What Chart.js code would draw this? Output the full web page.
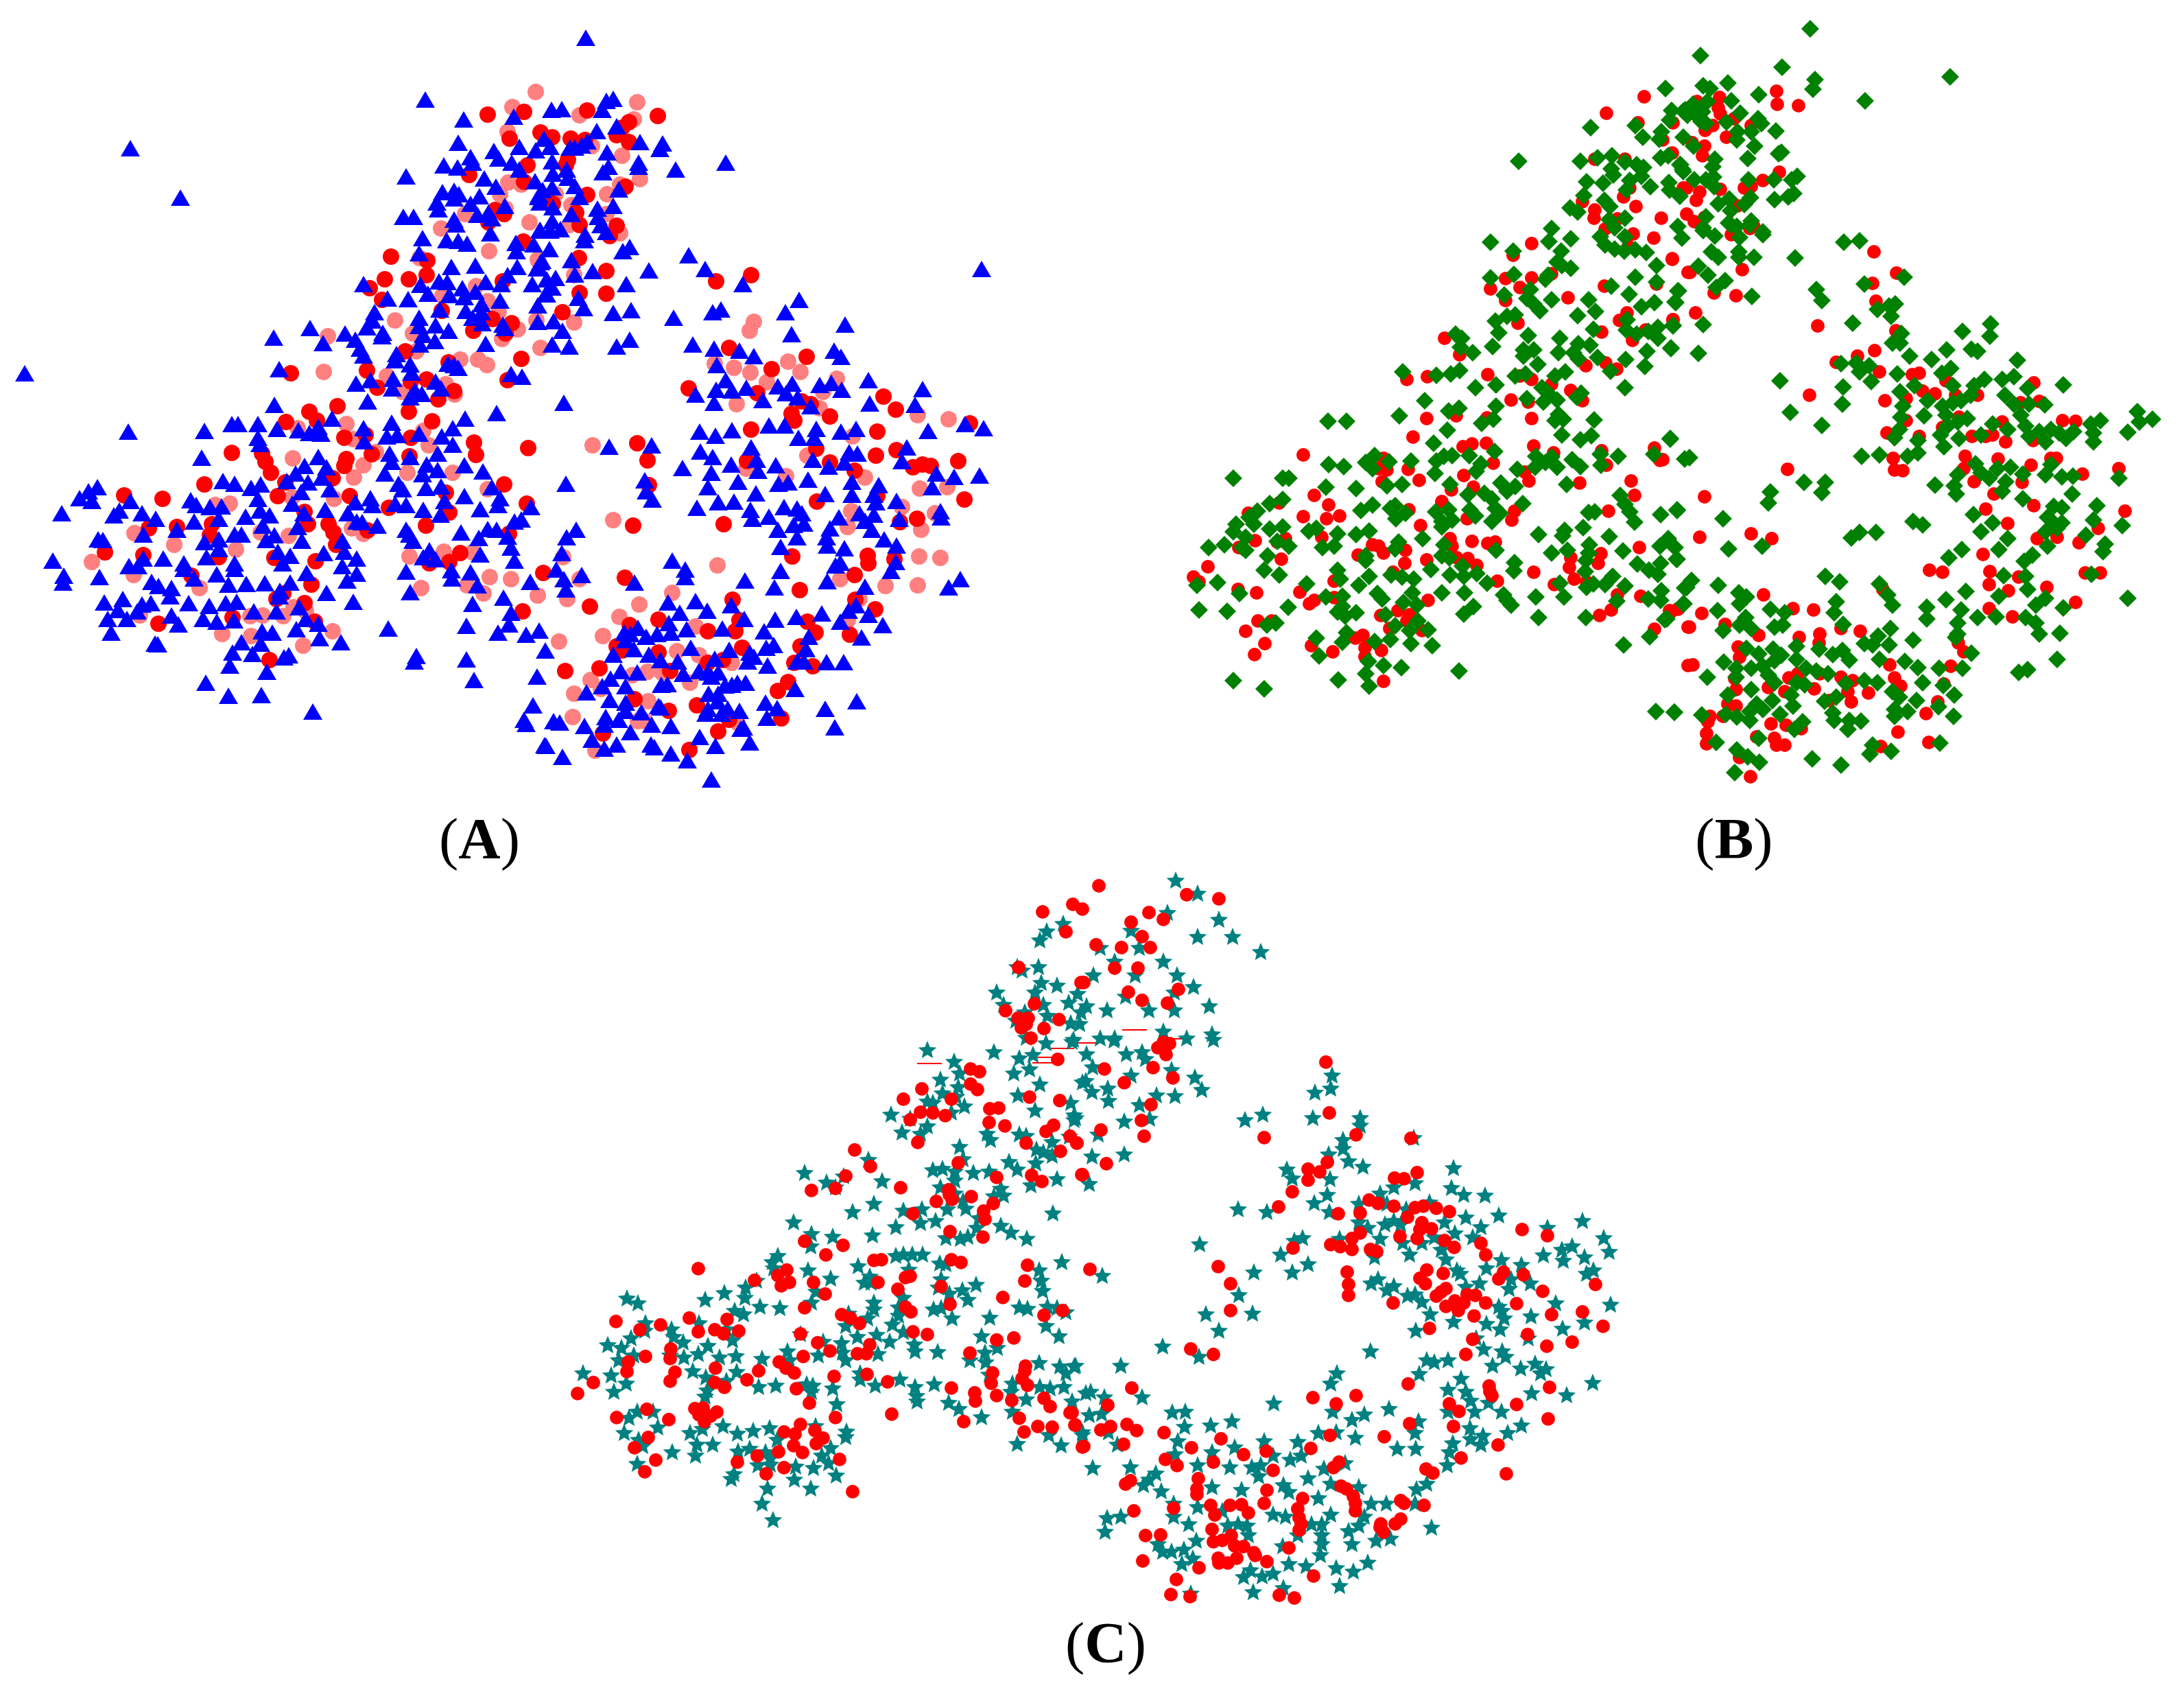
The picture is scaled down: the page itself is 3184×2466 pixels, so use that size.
<!DOCTYPE html>
<html lang="en">

<head>
    <meta charset="UTF-8">
    <title>Scatter panels A B C</title>
    <style>
        html, body { margin: 0; padding: 0; background: #fff; }
        body { position: relative; width: 3184px; height: 2466px; overflow: hidden; }
        canvas { position: absolute; }
        .tag { position: absolute; width: 200px; text-align: center; font: 85px/1 "Liberation Serif", serif; color: #000; }
        .tag b { font-weight: bold; }
    </style>
</head>

<body>
    <canvas id="chartA" width="1640" height="1170" style="left:0;top:0"></canvas>
    <canvas id="chartB" width="1544" height="1170" style="left:1640px;top:0"></canvas>
    <canvas id="chartC" width="1680" height="1086" style="left:760px;top:1260px"></canvas>

    <script src="https://cdn.jsdelivr.net/npm/chart.js"></script>
    <script>
        const panelTags = ["A", "B", "C"];

        // panel A, values
        const triangleA = [[620,145],[676,174],[749,170],[190,216],[263,288],[668,208],[720,220],[757,214],[781,219],[793,202],[686,229],[689,237],[727,231],[647,241],[667,244],[746,237],[757,247],[592,257],[706,260],[723,272],[780,264],[645,280],[662,278],[669,283],[662,289],[699,286],[686,297],[637,295],[639,305],[791,277],[786,284],[736,300],[712,310],[696,313],[717,318],[588,316],[603,316],[662,320],[665,327],[715,340],[616,347],[651,350],[668,351],[681,355],[788,336],[752,354],[778,356],[753,366],[611,369],[658,389],[693,387],[754,389],[740,401],[790,380],[783,391],[530,414],[613,415],[640,410],[652,411],[708,411],[731,414],[776,414],[674,420],[693,425],[624,428],[655,430],[565,435],[595,436],[677,433],[729,438],[795,429],[702,443],[784,445],[546,455],[641,451],[679,453],[702,455],[611,463],[689,463],[543,467],[635,474],[654,482],[703,471],[535,477],[733,473],[736,478],[784,469],[452,478],[558,485],[557,490],[503,486],[518,495],[399,492],[471,500],[611,475],[617,488],[634,497],[612,502],[708,501],[525,508],[530,518],[578,516],[576,525],[598,531],[407,538],[653,530],[662,532],[668,536],[600,543],[36,544],[745,545],[761,549],[573,552],[540,554],[519,559],[635,556],[572,566],[643,566],[605,569],[615,574],[598,579],[536,585],[400,590],[724,602],
            [854,55],[804,160],[819,159],[878,160],[884,147],[894,144],[870,191],[899,184],[933,207],[802,214],[831,215],[838,215],[848,212],[856,206],[966,209],[962,217],[885,222],[805,235],[931,237],[931,243],[985,247],[1058,237],[887,243],[879,251],[806,253],[826,247],[828,259],[838,271],[805,273],[902,276],[785,287],[845,287],[787,295],[806,302],[894,300],[871,304],[833,312],[872,316],[805,322],[876,328],[787,335],[802,336],[817,334],[853,342],[884,338],[852,350],[918,360],[908,366],[801,363],[1004,372],[788,382],[833,379],[1028,392],[946,394],[864,395],[786,391],[838,400],[797,407],[810,405],[1431,392],[913,414],[1083,414],[805,419],[797,429],[843,434],[851,449],[1165,437],[920,452],[894,456],[1145,455],[1039,455],[1051,451],[982,463],[807,468],[820,482],[1232,473],[1154,487],[918,495],[899,505],[805,502],[830,505],[1010,502],[1041,508],[1078,511],[1099,519],[1216,511],[1226,520],[1045,532],[1266,554],[1058,554],[1195,561],[1212,558],[1227,568],[1134,563],[1155,559],[1044,568],[1088,565],[1067,569],[1146,573],[1163,579],[1345,567],[1014,575],[1112,583],[1182,592],[1041,587],[1268,588],[1334,590],[822,587],
            [187,629],[298,628],[338,618],[347,618],[376,618],[404,625],[435,627],[451,631],[464,622],[468,632],[484,610],[376,638],[379,647],[530,624],[564,636],[579,634],[571,616],[531,643],[611,632],[644,636],[660,624],[660,648],[678,610],[294,667],[464,666],[444,679],[476,681],[568,661],[571,673],[638,661],[598,666],[622,677],[638,685],[677,678],[704,687],[561,690],[616,691],[431,690],[418,701],[449,703],[469,696],[325,701],[342,705],[380,706],[366,711],[581,705],[587,713],[621,711],[643,709],[142,710],[129,716],[116,726],[134,730],[439,717],[481,713],[376,727],[717,710],[729,726],[677,723],[540,726],[190,730],[278,729],[286,736],[306,739],[323,738],[518,732],[543,736],[576,734],[592,736],[648,730],[426,734],[174,744],[726,736],[700,742],[774,739],[617,743],[474,743],[443,748],[642,750],[379,744],[393,751],[358,753],[90,748],[166,751],[207,748],[507,748],[760,757],[750,760],[227,756],[319,756],[283,760],[520,760],[528,761],[434,768],[383,766],[550,766],[711,771],[724,772],[592,772],[672,776],[258,772],[209,779],[342,779],[352,779],[400,780],[319,786],[143,786],[150,787],[597,779],[602,788],[698,784],[740,782],[440,788],[388,787],[298,790],[499,788],[745,798],[502,804],[405,804],[472,806],[700,808],[238,814],[209,814],[319,800],[626,802],[617,812],[635,815],[301,812],[423,810],[520,814],[77,817],[268,821],[750,817],[342,821],[412,821],[499,825],[188,825],[201,825],[268,829],[658,831],[686,834],[592,833],[93,839],[145,841],[316,837],[342,829],[520,836],[506,846],[92,849],[283,843],[221,848],[231,854],[250,857],[423,849],[386,850],[359,851],[333,852],[659,843],[773,848],[696,853],[447,835],[598,863],[476,864],[408,861],[248,869],[179,873],[152,878],[220,879],[275,879],[329,879],[345,877],[305,883],[407,869],[515,877],[734,871],[689,880],[207,881],[200,891],[172,889],[370,891],[403,891],[436,885],[745,893],[250,897],[157,902],[185,902],[296,902],[316,906],[341,904],[446,902],[464,909],[260,910],[742,910],[382,920],[397,922],[432,917],[566,916],[680,912],[726,922],[767,925],[786,919],[162,922],[466,930],[352,936],[380,938],[497,936],[226,938],[230,939],[795,948],[339,951],[368,953],[607,956],[604,964],[421,955],[414,958],[680,961],[335,970],[389,979],[783,986],[691,991],[300,995],[333,1014],[381,1013],[777,1028],[456,1037],[764,1049],[767,1055],[794,1086],
            [1353,628],[1434,624],[1407,618],[1322,652],[1315,672],[1365,690],[1359,710],[1391,695],[1428,693],[1281,707],[1242,702],[1242,721],[1274,721],[1277,732],[1307,730],[1371,745],[1372,754],[1311,756],[1253,748],[1274,750],[1223,754],[1261,759],[1271,772],[1289,786],[1210,770],[1205,783],[1206,795],[1231,799],[1307,795],[1306,819],[1299,832],[1218,824],[1225,820],[1206,847],[1261,855],[1400,844],[1383,856],[1248,882],[1237,890],[1225,906],[1266,896],[1287,911],[1256,929],[1198,894],[1161,899],[1130,903],[1114,920],[1128,940],[1117,944],[1179,928],[1175,946],[1172,964],[1162,964],[1205,965],[1230,965],[1119,970],[1090,964],[1093,951],[1099,957],[1085,902],[1053,916],[1063,947],[1066,882],[1031,890],[1014,876],[1007,944],[991,893],[974,878],[1001,917],[975,908],[978,922],[958,924],[942,928],[930,915],[910,922],[919,924],[912,933],[924,946],[894,954],[946,954],[963,962],[988,964],[996,982],[1019,978],[1042,960],[1032,980],[1037,986],[1047,980],[905,978],[929,980],[890,989],[878,1000],[912,1000],[964,998],[973,997],[1057,999],[1067,998],[1075,995],[1087,995],[1033,1011],[1047,1011],[1116,1024],[1133,1032],[1249,1022],[1203,1033],[1217,1060],[1159,1004],[1118,1046],[855,1009],[889,1020],[912,1024],[912,1036],[935,1038],[960,1029],[963,1031],[1032,1033],[1046,1022],[1061,1033],[1078,1036],[1052,1040],[1029,1040],[1084,1060],[1080,1062],[1093,1082],[1020,1074],[1043,1087],[978,1058],[950,1056],[919,1067],[902,1049],[883,1045],[881,1056],[852,1058],[863,1078],[899,1085],[881,1091],[949,1085],[954,1089],[978,1098],[1002,1108],[796,1087],[820,1103],[816,1053],[807,1051],[1037,1136],
            [888,651],[825,705],[950,649],[940,700],[942,716],[951,728],[840,772],[826,783],[819,806],[811,830],[822,844],[825,859],[848,838],[925,849],[980,817],[999,830],[999,841],[1086,846],[1138,832],[1129,856],[1138,797],[1162,783],[1134,772],[1157,765],[1172,763],[1162,741],[1169,748],[1143,739],[1121,753],[1094,743],[1097,756],[1070,731],[1047,732],[1016,740],[1032,710],[1076,702],[1102,719],[1037,689],[995,682],[1066,677],[1039,666],[1021,658],[1105,686],[1103,670],[1095,652],[1131,678],[1135,705],[1149,703],[1178,699],[1203,720],[1185,670],[1208,680],[1231,674],[1238,659],[1250,661],[1164,638],[1187,638],[1020,629],[1043,635],[1067,627],[1121,620],[1144,620],[1226,629],[1248,625],[1190,625]];
        const dotA = [[711,167],[764,163],[788,193],[743,202],[769,241],[684,255],[764,265],[722,306],[735,312],[712,324],[763,352],[570,374],[623,380],[622,401],[561,407],[596,407],[733,410],[539,420],[557,437],[644,453],[718,465],[746,471],[690,482],[737,486],[591,512],[760,523],[654,528],[424,544],[535,540],[550,565],[622,553],[599,556],[740,554],[639,582],[662,570],[596,600],[492,592],[451,600],[630,614],[417,615],[462,613],
            [959,169],[856,161],[805,200],[832,202],[853,204],[917,178],[907,186],[899,197],[917,207],[828,233],[825,241],[912,272],[856,284],[806,297],[840,310],[845,328],[899,329],[889,344],[844,376],[884,395],[1044,410],[1095,401],[845,427],[884,428],[820,455],[1063,507],[1176,520],[1125,538],[1004,566],[1104,573],[1288,578],[1306,597],[1169,585],[1182,589],[1154,603],[1158,613],[1210,607],[1414,617],
            [502,638],[533,634],[599,638],[691,645],[694,663],[770,653],[338,660],[382,661],[387,673],[395,689],[505,669],[502,679],[542,662],[597,665],[485,697],[298,706],[416,703],[405,723],[510,723],[650,718],[735,706],[181,722],[237,727],[768,734],[567,740],[655,747],[444,746],[449,764],[479,764],[486,776],[536,773],[621,766],[309,764],[217,770],[258,768],[742,778],[306,780],[490,794],[153,805],[671,806],[655,819],[626,821],[209,809],[319,812],[400,813],[460,818],[279,839],[454,852],[792,835],[762,891],[413,865],[403,873],[444,879],[339,900],[459,906],[231,909],[393,962],
            [929,646],[944,671],[946,707],[923,766],[911,842],[860,884],[824,978],[874,974],[960,903],[918,911],[899,942],[907,948],[960,951],[1032,920],[1072,920],[1078,904],[1068,874],[1082,944],[1032,966],[1054,962],[977,978],[925,1019],[1016,1028],[975,1036],[1063,1049],[1047,1066],[1005,1093],[879,1069],[1139,1047],[1149,994],[1134,1007],[1185,971],[1158,966],[1167,942],[1189,922],[1177,906],[1239,925],[1276,888],[1247,874],[1246,838],[1265,810],[1266,821],[1304,815],[1155,811],[1166,860],[1055,764],[1191,731],[1279,629],[1277,664],[1307,656],[1331,681],[1345,677],[1357,679],[1397,672],[1406,728],[1337,756],[1312,761],[1279,723],[1246,686],[1190,654],[1210,674],[1089,672],[1095,626]];
        const stippleA = [[781,134],[747,156],[740,192],[678,312],[643,333],[772,324],[741,266],[729,283],[760,269],[737,304],[713,366],[612,376],[785,380],[694,417],[645,431],[711,439],[727,455],[576,467],[478,490],[602,486],[755,480],[732,494],[788,507],[607,512],[671,524],[697,524],[710,532],[472,542],[564,548],[650,560],[663,575],[587,571],
            [929,149],[845,168],[924,174],[863,213],[907,227],[933,261],[904,269],[885,283],[810,283],[833,299],[884,312],[830,328],[904,340],[837,401],[784,378],[837,470],[782,467],[1099,469],[1093,482],[1070,536],[1042,530],[1094,543],[1118,557],[1149,527],[1167,542],[1220,552],[1200,571],[1074,589],[1338,605],[1383,611],[1195,595],
            [434,624],[505,618],[515,640],[617,628],[625,649],[548,659],[427,668],[530,678],[516,696],[594,689],[660,689],[711,713],[426,725],[487,727],[513,770],[530,778],[314,736],[335,734],[380,776],[421,781],[196,777],[254,794],[344,801],[134,819],[195,838],[291,857],[597,811],[647,804],[689,805],[714,841],[681,853],[705,865],[745,844],[784,868],[614,857],[204,897],[365,898],[383,897],[413,898],[324,924],[366,927],[428,885],[446,891],[485,920],[442,941],
            [864,649],[894,758],[1046,824],[821,812],[845,844],[827,873],[980,864],[932,881],[903,899],[879,927],[815,935],[1014,913],[1019,955],[1067,966],[987,949],[861,991],[837,1011],[835,1045],[922,984],[944,979],[965,980],[1006,995],[945,1022],[876,1004],[930,1051],[940,1051],[868,1094],[1075,1053],[1338,853],[1340,811],[1371,813],[1291,854],[1225,844],[1343,772],[1236,768],[1261,696],[1381,710],[1341,712],[1315,739],[1241,745],[1363,748],[1243,636],[1177,664],[1146,694],[1088,683],[1236,904],[1253,873]];

        // panel B
        const diamondB = [[2639,42],[2479,81],[2598,98],[2646,116],[2643,130],[2843,112],[2719,147],[2483,125],[2493,129],[2519,121],[2564,138],[2524,147],[2489,148],[2468,152],[2457,160],[2482,163],[2537,165],[2472,167],[2460,168],[2480,177],[2487,180],[2517,178],[2563,173],[2568,180],[2533,192],[2553,192],[2589,191],[2532,204],[2558,213],[2593,224],[2597,222],[2548,231],[2500,232],[2497,243],[2469,213],[2450,240],[2453,247],[2549,262],[2586,262],[2620,257],[2612,262],[2498,258],[2470,262],[2487,262],[2499,272],[2615,282],[2587,291],[2607,287],[2552,288],[2543,298],[2521,290],[2505,297],[2523,307],[2553,322],[2487,316],[2520,325],[2532,330],[2483,332],[2570,338],
            [2428,129],[2319,186],[2384,183],[2434,175],[2437,161],[2454,162],[2395,200],[2422,192],[2419,203],[2454,200],[2214,235],[2304,235],[2329,230],[2350,227],[2369,236],[2421,230],[2432,227],[2449,240],[2454,250],[2349,246],[2386,240],[2396,244],[2352,255],[2393,257],[2376,263],[2313,265],[2337,267],[2433,266],[2371,277],[2406,272],[2434,277],[2449,286],[2309,285],[2339,292],[2347,301],[2289,303],[2300,309],[2369,318],[2346,320],[2354,332],[2262,333],[2446,330],[2369,345],[2452,347],[2290,348],[2258,352],[2173,353],[2333,345],[2340,357],[2354,363],[2368,366],[2384,364],[2400,368],[2206,366],[2276,366],[2270,382],[2277,387],[2290,391],[2415,387],[2253,407],[2207,400],[2173,405],[2384,404],[2257,401],[2415,411],[2349,417],[2231,422],[2446,424],[2375,429],[2193,430],[2226,435],[2316,437],[2262,437],[2236,443],[2393,447],[2412,441],[2443,441],[2326,454],[2245,453],[2300,460],[2209,459],[2197,461],[2180,468],[2372,466],[2323,480],[2185,485],[2228,489],[2439,475],[2371,481],[2417,477],[2403,483],[2386,487],[2122,487],[2131,493],[2274,493],[2417,493],[2301,501],[2318,503],[2436,508],[2176,505],[2129,506],[2221,510],[2236,510],[2272,514],[2294,514],[2147,514],[2401,512],[2221,519],[2301,523],[2329,521],[2370,524],[2242,531],[2398,534],[2045,542],[2128,540],[2282,542],[2348,541],[2115,545],[2094,547],[2267,548],[2209,548],[2224,545],[2369,565],[2151,565],[2181,561],[2248,565],[2257,573],[2305,573],[2299,579],[2270,583],[2226,581],[2250,586],[2077,584],[2127,595],[2112,599],[2181,592],[2040,606],[1936,614],[1963,614],[2324,612],[2272,604],[2267,613],[2279,611],[2177,611],[2160,617],
            [2110,627],[2277,634],[2304,641],[2320,635],[2435,640],[2090,646],[2142,664],[2179,658],[2359,665],[2411,662],[2456,669],[2239,665],[2253,674],[2262,666],[2270,681],[2238,681],[2292,670],[2304,680],[2333,662],[2334,678],[2004,664],[1991,674],[2001,683],[2025,673],[2057,672],[1937,677],[1959,680],[2094,672],[2105,665],[2117,664],[2159,676],[2152,687],[2092,690],[2212,684],[1798,697],[1870,697],[1879,697],[1933,710],[1977,712],[2022,708],[2044,706],[2114,706],[2188,704],[2209,709],[2197,716],[2284,706],[2362,722],[2164,719],[2140,721],[2175,727],[1870,728],[1851,734],[2220,734],[2369,735],[2445,743],[2376,746],[2421,750],[1833,745],[2001,736],[1984,744],[2034,737],[2027,741],[2049,748],[2035,756],[2093,746],[2112,743],[2102,760],[2117,758],[2102,768],[2143,743],[2151,752],[2180,741],[2187,748],[2175,760],[2316,747],[2325,746],[1821,754],[1828,764],[2383,761],[2308,769],[1802,764],[1870,768],[1851,771],[1919,770],[1908,774],[1996,774],[1977,779],[2281,773],[2278,781],[2243,779],[2346,782],[1798,775],[1950,778],[2074,785],[1816,783],[1862,789],[2432,785],[2039,790],[1945,796],[1762,798],[1785,794],[1811,798],[1879,796],[1928,798],[2105,794],[2317,794],[2420,796],[2442,798],[2034,800],[2181,802],[2366,803],[2262,806],[2285,802],[1816,802],[2316,806],[1848,810],[1991,810],[2102,810],[2312,817],[2113,813],[2445,815],[2387,822],[2421,821],[2208,820],[2404,831],[1843,831],[1991,817],[2086,830],[2132,825],[1950,831],[2417,837],[2207,832],[2311,833],[2153,836],[1865,838],[2114,838],[2134,840],[2028,838],[2044,841],[1996,840],[2351,840],[1954,844],[2061,844],[1775,849],[2168,850],[2274,850],[2340,852],[1745,853],[1905,851],[2323,851],[2313,856],[2369,854],[1981,853],[2008,865],[2059,864],[2422,861],[2456,857],[1807,865],[2135,864],[2102,864],[2192,867],[1957,869],[1933,870],[2239,870],[2280,870],[2403,873],[2421,875],[2015,873],[2357,876],[2197,875],[2046,878],[2066,882],[1789,891],[1748,889],[1878,885],[2148,884],[2203,882],[1957,884],[2454,880],[2134,895],[1950,892],[1977,893],[1961,898],[2020,896],[2243,900],[2312,900],[2427,903],[2067,905],[1860,908],[1847,911],[2034,912],[2082,918],[2055,919],[1963,922],[1957,936],[1919,930],[2004,935],[2027,932],[2057,938],[2088,941],[2367,940],[2405,928],[1923,956],[1995,964],[2017,970],[2043,973],[1991,982],[2127,978],[1951,991],[1798,992],[1996,1000],[1843,1004],[2414,1037],[2441,1038],
            [2483,336],[2500,344],[2524,328],[2536,346],[2551,328],[2570,342],[2495,367],[2505,375],[2535,367],[2535,375],[2557,375],[2617,376],[2688,353],[2711,351],[2476,388],[2490,401],[2515,409],[2502,419],[2554,432],[2648,422],[2656,438],[2776,404],[2718,414],[2447,424],[2442,440],[2483,473],[2439,474],[2737,451],[2754,446],[2763,443],[2757,461],[2701,471],[2772,486],[2759,500],[2770,500],[2436,507],[2476,515],[2784,519],[2861,483],[2902,472],[2901,490],[2838,510],[2874,509],[2883,512],[2816,524],[2941,525],[2684,530],[2706,529],[2725,533],[2711,542],[2766,545],[2844,537],[2831,544],[2595,555],[2728,556],[2791,562],[2847,562],[2893,553],[2878,562],[2919,553],[2936,549],[2956,566],[3008,561],[2687,564],[2770,571],[2873,576],[2923,576],[2810,584],[2832,592],[2847,587],[2859,584],[2774,592],[2686,589],[2610,601],[2936,589],[2958,589],[2981,590],[2837,605],[2805,606],[2946,605],[2771,608],[2868,610],[2854,615],[2905,618],[3116,600],[3138,611],[3062,613],[3119,615],[2656,620],[2927,626],[2953,621],[3048,618],[2990,626],[2973,629],[3023,629],[2839,621],[2888,634],[2769,626],[3102,630],[3052,631],[3002,631],[2829,634],[2762,638],[2796,642],[3012,639],[2435,639],[2958,636],[2856,639],[2982,644],[3052,644],[2834,651],[2781,665],[2796,660],[2714,665],[2740,663],[2463,667],[2880,676],[2990,677],[2931,681],[2888,689],[2912,683],[2854,692],[2982,692],[3006,695],[3022,694],[2949,691],[2900,697],[2924,702],[3089,697],[2661,703],[2630,703],[2821,707],[2849,708],[2919,716],[2852,720],[2656,718],[2581,717],[3021,720],[2578,733],[2949,727],[2994,738],[3006,740],[2445,744],[2877,750],[3057,737],[2512,756],[2905,762],[3052,758],[2985,754],[2994,762],[3006,762],[2789,760],[2803,765],[3094,766],[2888,775],[2982,775],[2999,770],[2735,776],[2711,776],[2699,784],[2927,785],[3041,780],[2432,788],[2985,796],[3069,793],[2520,800],[2569,796],[2914,801],[2860,801],[3066,804],[2841,813],[2963,809],[2444,815],[2951,818],[3049,837],[2921,839],[2953,840],[2661,840],[2682,848],[2740,851],[2466,846],[2459,856],[2505,853],[2866,862],[2956,859],[2535,864],[2546,870],[2752,867],[2914,869],[2982,872],[2677,877],[2837,874],[3102,872],[2536,880],[2759,882],[2968,882],[2455,880],[2809,885],[2581,888],[2504,890],[3008,886],[2859,889],[2602,893],[2674,893],[2883,900],[2910,899],[2953,900],[2809,902],[2545,900],[2430,902],[2968,908],[2536,911],[2553,916],[2687,910],[2599,911],[2587,914],[2854,908],[2512,919],[2756,916],[2973,924],[3003,923],[2854,924],[2738,927],[2851,929],[2789,933],[2718,938],[2730,940],[2754,940],[2652,946],[2874,952],[2546,945],[2564,953],[2585,946],[2619,942],[2686,948],[2672,954],[2597,955],[2587,963],[2619,961],[2696,962],[2740,961],[2999,961],[2513,965],[2777,964],[2796,973],[2570,971],[2553,974],[2827,974],[2861,974],[2531,974],[2633,974],[2648,978],[2665,982],[2956,976],[2943,980],[2578,984],[2531,987],[2489,987],[2718,992],[2737,995],[2619,995],[2587,995],[2803,995],[2691,996],[2631,998],[2833,999],[2553,1005],[2759,1008],[2769,1016],[2849,1013],[2519,1013],[2677,1016],[2611,1013],[2584,1021],[2794,1021],[2660,1022],[2561,1026],[2614,1029],[2826,1030],[2570,1034],[2551,1037],[2762,1034],[2781,1037],[2441,1038],[2481,1042],[2672,1039],[2516,1041],[2595,1041],[2762,1044],[2532,1045],[2848,1044],[2551,1050],[2674,1050],[2713,1051],[2696,1050],[2628,1052],[2616,1063],[2694,1063],[2564,1076],[2502,1082],[2730,1086],[2828,1083],[2532,1093],[2757,1095],[2726,1099],[2548,1103],[2642,1106],[2565,1111],[2684,1115],[2529,1126]];
        const dotB = [[2590,133],[2591,152],[2622,154],[2507,142],[2505,157],[2508,166],[2474,148],[2497,183],[2486,190],[2528,173],[2553,183],[2517,200],[2467,208],[2485,213],[2482,227],[2594,251],[2570,263],[2543,274],[2553,272],[2459,274],[2478,280],[2473,292],[2508,276],[2470,323],[2485,317],[2557,330],[2533,300],
            [2397,141],[2342,165],[2388,179],[2439,179],[2424,204],[2438,223],[2325,232],[2369,232],[2454,274],[2376,274],[2367,287],[2307,294],[2385,301],[2325,306],[2324,318],[2358,319],[2422,318],[2459,312],[2340,334],[2381,341],[2411,347],[2233,355],[2206,372],[2374,359],[2438,377],[2461,397],[2262,399],[2195,406],[2233,405],[2339,417],[2173,421],[2216,419],[2415,414],[2195,438],[2286,434],[2372,456],[2361,467],[2439,466],[2213,471],[2335,484],[2106,493],[2399,481],[2380,496],[2128,517],[2312,533],[2341,529],[2357,538],[2051,553],[2081,549],[2169,546],[2216,548],[2233,553],[2262,560],[2290,569],[2307,584],[2203,583],[2228,586],[2123,606],[2080,610],[2233,610],[2168,609],
            [1900,663],[2060,637],[2133,651],[2146,647],[2167,646],[2236,650],[2265,660],[2335,657],[2412,653],[2420,671],[2017,668],[2010,683],[2022,685],[2053,684],[2177,675],[2342,678],[2223,688],[2229,701],[2134,693],[2069,700],[2015,702],[2303,704],[2378,701],[2148,710],[2116,714],[1916,722],[2383,722],[1937,736],[2102,731],[1900,753],[2054,743],[1934,756],[1953,752],[1820,748],[2208,745],[2204,758],[2139,756],[2345,745],[2071,766],[1865,733],[1830,788],[1862,790],[1874,785],[1806,798],[1927,783],[2146,789],[2169,792],[2180,790],[2114,785],[2117,796],[2001,794],[2010,796],[2017,806],[2049,802],[1980,809],[1868,815],[2390,798],[2290,813],[2334,807],[2330,821],[2288,827],[1761,826],[2048,821],[2124,813],[2080,816],[2140,814],[2153,824],[1740,841],[1748,848],[2236,834],[2031,834],[2295,844],[1945,847],[2183,847],[2266,852],[2313,848],[1805,859],[1832,864],[1895,863],[1945,871],[2358,867],[2392,869],[2082,875],[1916,875],[1909,880],[2349,889],[2434,890],[2446,888],[2038,890],[2055,896],[2013,897],[2332,897],[1834,905],[1854,905],[2051,905],[2026,916],[2073,919],[1816,920],[2412,917],[2461,914],[1987,926],[1976,930],[1844,938],[1912,941],[1990,944],[2014,948],[1943,950],[1829,954],[1990,957],[2017,993],[2461,970],
            [2438,378],[2540,393],[2464,397],[2531,431],[2499,427],[2472,456],[2439,466],[2524,342],[2551,333],[2732,367],[2765,398],[2730,413],[2735,439],[2650,475],[2764,482],[2708,519],[2733,511],[2677,528],[2740,542],[2798,544],[2788,546],[2638,576],[2965,558],[2837,555],[2803,570],[2821,574],[2748,584],[2883,576],[2851,576],[2779,581],[2946,587],[2973,585],[2856,608],[2779,613],[2919,615],[3007,613],[3026,614],[2832,623],[2751,631],[2798,636],[2875,636],[2895,636],[2905,634],[2924,644],[2964,642],[2424,670],[2865,665],[2913,669],[2990,668],[2998,668],[2760,668],[2606,684],[2762,685],[2774,686],[2961,678],[2863,683],[3089,683],[3036,691],[2878,702],[2948,703],[2907,720],[2485,724],[2965,737],[2895,742],[3098,745],[3059,770],[2927,763],[2970,785],[2999,783],[2478,783],[2553,778],[2583,785],[3031,791],[2891,808],[2813,831],[2832,834],[2901,833],[3040,835],[3062,835],[2943,841],[2900,852],[2984,856],[2745,859],[2928,861],[2571,867],[3026,878],[2644,889],[2614,887],[2481,894],[2900,887],[2934,899],[2447,887],[2435,893],[2515,910],[2463,914],[2684,916],[2712,920],[2564,926],[2653,924],[2623,929],[2652,937],[2855,937],[2534,943],[2536,958],[2863,950],[2468,969],[2755,969],[2844,971],[2621,982],[2653,982],[2684,987],[2762,988],[2608,988],[2529,989],[2701,992],[2771,1000],[2531,1005],[2645,1004],[2834,997],[2578,1002],[2602,1008],[2724,1010],[2694,1008],[2519,1026],[2531,1029],[2699,1023],[2825,1023],[2667,1021],[2808,1040],[2493,1044],[2512,1044],[2582,1055],[2604,1057],[2626,1062],[2490,1052],[2767,1067],[2488,1069],[2561,1074],[2587,1076],[2590,1086],[2602,1086],[2488,1084],[2742,1088],[2812,1082],[2536,1104],[2552,1132]];

        // panel C
        const starC = [[1714,1283],[1746,1302],[1777,1340],[1838,1387],[1797,1365],[1649,1356],[1746,1365],[1702,1330],[1661,1381],[1712,1446],[1763,1466],[1767,1507],[1740,1438],[1696,1401],[1716,1421],[1655,1421],[1625,1401],[1604,1381],[1594,1421],[1641,1452],[1614,1472],[1675,1472],[1712,1472],[1696,1503],[1730,1513],[1584,1466],[1574,1492],[1665,1533],[1625,1513],[1604,1513],
            [1550,1346],[1526,1357],[1516,1370],[1483,1409],[1490,1414],[1514,1409],[1518,1432],[1541,1436],[1453,1446],[1509,1446],[1571,1448],[1463,1464],[1558,1461],[1521,1464],[1494,1475],[1527,1480],[1481,1487],[1561,1491],[1576,1475],[1496,1512],[1525,1520],[1563,1518],[1352,1530],[1449,1533],[1486,1542],[1506,1537],[1391,1547],[1501,1558],[1478,1564],[1399,1564],[1371,1573],[1516,1580],[1397,1584],[1578,1577],[1374,1593],[1484,1596],[1352,1605],[1394,1598],[1561,1607],[1360,1607],[1406,1612],[1509,1618],[1299,1624],[1387,1621],[1566,1625],[1327,1630],[1566,1632],[1352,1641],[1315,1650],[1342,1652],[1486,1653],[1439,1652],[1496,1655],[1444,1661],[1559,1656],[1534,1664],[1399,1671],[1511,1675],[1521,1679],[1534,1684],[1471,1693],[1404,1689],[1510,1695],[1266,1690],[1483,1704],[1360,1705],[1374,1703],[1173,1709],[1392,1707],[1419,1709],[1442,1707],[1541,1718],[1230,1714],[1205,1723],[1218,1730],[1286,1721],[1392,1720],[1503,1727],[1371,1730],[1459,1732],[1392,1739],[1449,1743],[1463,1742],[1274,1754],[1404,1750],[1243,1766],[1317,1764],[1344,1762],[1381,1762],[1408,1761],[1535,1768],[1157,1781],[1427,1775],[1342,1782],[1364,1779],[1306,1788],[1424,1789],[1459,1786],[1183,1798],[1214,1802],[1474,1796],[1272,1800],[1379,1804],[1400,1805],[1411,1802],[1497,1805],
            [1182,1816],[1134,1830],[1126,1839],[1128,1848],[1317,1828],[1330,1828],[1306,1830],[1345,1828],[1370,1841],[1379,1842],[1251,1845],[1548,1839],[1515,1851],[1178,1851],[1211,1863],[1268,1860],[1260,1869],[1270,1869],[1325,1850],[1518,1866],[1372,1864],[1423,1872],[1087,1876],[1103,1866],[1368,1876],[1403,1880],[1520,1881],[1056,1884],[914,1892],[1086,1891],[1190,1882],[1384,1885],[1411,1894],[1028,1894],[1317,1891],[930,1899],[1183,1898],[1274,1898],[1108,1904],[1137,1906],[1274,1908],[1361,1908],[1486,1905],[1498,1907],[1071,1910],[1084,1915],[1310,1905],[1372,1906],[1527,1904],[1541,1906],[1554,1912],[1237,1914],[1310,1917],[1265,1921],[1388,1921],[1443,1920],[1301,1930],[941,1928],[1019,1928],[1233,1932],[1525,1932],[979,1937],[940,1939],[1059,1937],[1250,1948],[1317,1941],[1167,1944],[920,1950],[1431,1947],[982,1948],[1544,1947],[1278,1945],[996,1956],[1068,1953],[1297,1955],[1200,1955],[886,1960],[1227,1957],[906,1964],[1032,1961],[1333,1959],[1148,1969],[1454,1964],[1334,1969],[1367,1970],[1018,1973],[1193,1975],[1228,1971],[1280,1973],[924,1975],[977,1975],[1436,1971],[902,1982],[1073,1976],[997,1978],[1049,1978],[1151,1982],[1233,1982],[1111,1980],[1414,1982],[1437,1985],[1515,1986],[1545,1991],[1566,1991],[850,2001],[1010,1998],[1074,1999],[891,2004],[1554,2001],[1254,2001],[1442,2003],[1029,2007],[1059,2012],[913,2016],[1176,2017],[1185,2019],[1312,2010],[1254,2010],[1362,2017],[1476,2016],[1334,2021],[1276,2019],[1516,2021],[1531,2023],[1551,2021],[1106,2021],[1131,2019],[1214,2023],[1031,2026],[895,2028],[1474,2028],[1183,2028],[1336,2034],[1028,2035],[1496,2039],[1383,2044],[1337,2042],[1563,2042],[1220,2046],[1398,2053],[1476,2057],[929,2057],[952,2057],[917,2066],[1431,2065],[959,2080],[1054,2078],[1122,2081],[1024,2082],[1098,2085],[1006,2088],[1075,2089],[910,2088],[1189,2078],[1234,2086],[1133,2098],[1233,2094],[931,2098],[1529,2091],[1578,2091],[1039,2105],[1016,2105],[1483,2104],[1547,2106],[937,2107],[1076,2115],[1093,2111],[1211,2110],[980,2116],[1116,2116],[1198,2121],[1014,2121],[1123,2125],[1208,2132],[929,2133],[1105,2135],[1123,2134],[1160,2137],[1186,2139],[1070,2148],[1219,2150],[1066,2155],[1158,2156],[1119,2169],[1182,2169],[1111,2191],[1127,2215],
            [1769,1515],[1624,1516],[1565,1515],[1584,1536],[1642,1536],[1593,1555],[1670,1543],[1708,1559],[1649,1567],[1742,1570],[1583,1575],[1615,1586],[1752,1588],[1592,1591],[1686,1596],[1713,1597],[1616,1604],[1661,1610],[1568,1629],[1676,1630],[1639,1634],[1601,1653],[1592,1685],[1639,1682],[1588,1725],[1942,1567],[1940,1586],[1917,1592],[1841,1624],[1815,1632],[1914,1629],[1983,1629],[1983,1640],[1958,1661],[2061,1658],[1958,1674],[1966,1692],[1937,1682],[1987,1700],[2119,1702],[1876,1704],[1884,1717],[1939,1718],[2032,1730],[2063,1724],[2116,1731],[2134,1741],[2012,1739],[2165,1742],[1935,1741],[1916,1753],[1981,1754],[2022,1754],[2084,1752],[1805,1762],[1847,1766],[1938,1766],[2185,1771],[2137,1774],[2050,1762],[2307,1779],[1981,1781],[2032,1779],[2106,1781],[2159,1788],[2019,1784],[2042,1784],[1994,1789],[2256,1789],[2147,1803],[2121,1797],[2091,1803],[2338,1804],[1953,1805],[1899,1804],[1887,1808],[2012,1805],[2346,1824],[1749,1813],[2073,1811],[2292,1816],[2277,1821],[2045,1811],[2101,1821],[2250,1829],[1867,1828],[2310,1832],[2055,1828],[2004,1832],[2279,1837],[2108,1835],[2189,1836],[2218,1843],[1907,1842],[1828,1854],[1884,1854],[2323,1851],[2167,1848],[2124,1851],[2313,1856],[1607,1859],[2129,1856],[2203,1864],[2009,1864],[2231,1870],[2157,1870],[1999,1870],[2032,1874],[2022,1880],[2063,1886],[2137,1875],[2200,1878],[2052,1888],[2073,1897],[1806,1887],[2268,1899],[2348,1901],[2190,1910],[2185,1904],[2193,1921],[2085,1915],[1758,1915],[1826,1914],[2232,1918],[2119,1926],[2167,1929],[2310,1927],[2278,1936],[2064,1939],[2187,1937],[1777,1939],[2228,1950],[2152,1950],[2163,1966],[1695,1962],[1998,1969],[2190,1969],[2195,1977],[1748,1977],[2111,1982],[2080,1982],[2091,1985],[1634,1990],[1568,1990],[2176,1990],[2238,1987],[2217,1994],[2254,1995],[2246,2001],[2069,2002],[1949,2001],[1940,2016],[2130,2009],[2111,2025],[2322,2015],[2233,2030],[2137,2028],[2284,2033],[1590,2028],[1583,2030],[1610,2036],[1665,2036],[1857,2045],[2144,2041],[2170,2044],[2025,2053],[1709,2058],[1728,2057],[2189,2057],[2150,2057],[1989,2061],[1943,2057],[2111,2057],[1588,2062],[1606,2060],[1971,2069],[2068,2071],[1796,2071],[1765,2077],[1727,2079],[2218,2077],[2143,2081],[1578,2087],[1616,2087],[2162,2092],[1922,2088],[2063,2088],[1948,2087],[2198,2088],[1976,2095],[2144,2097],[2037,2111],[2064,2111],[2118,2103],[2159,2105],[1717,2100],[1800,2109],[1892,2101],[1843,2100],[1629,2105],[1767,2116],[2113,2116],[1713,2119],[1897,2121],[1881,2127],[1856,2121],[1825,2138],[1746,2135],[1793,2138],[1593,2139],[1648,2138],[2110,2135],[1838,2135],[1930,2140],[1961,2132],[1835,2151],[1907,2154],[1685,2147],[2080,2162],[1675,2156],[1667,2164],[1693,2173],[1940,2162],[1871,2164],[1981,2167],[2065,2170],[1767,2167],[1810,2171],[1879,2174],[1922,2183],[1999,2191],[2021,2191],[1711,2191],[2063,2191],[1746,2196],[1782,2202],[1856,2207],[1940,2207],[1874,2210],[1989,2210],[1614,2212],[1634,2210],[1711,2210],[2087,2226],[1927,2221],[1805,2221],[1733,2221],[1790,2223],[1818,2223],[1912,2221],[1981,2223],[1611,2232],[1966,2231],[1820,2237],[1927,2237],[1744,2245],[2006,2245],[2027,2242],[1688,2250],[1892,2237],[1971,2250],[1870,2253],[1927,2250],[1695,2261],[1708,2261],[1726,2258],[1925,2266],[1739,2271],[1723,2279],[1994,2277],[1879,2279],[1948,2285],[1973,2290],[1904,2282],[1823,2288],[1856,2293],[1813,2298],[1840,2297],[1953,2311],[1871,2314],[1827,2320],[1736,2322]];
        const dotC = [[1602,1291],[1730,1304],[1777,1310],[1675,1330],[1696,1340],[1649,1344],[1665,1365],[1677,1381],[1635,1381],[1598,1377],[1625,1411],[1659,1411],[1645,1446],[1665,1458],[1702,1462],[1718,1442],[1580,1432],[1696,1519],
            [1520,1329],[1564,1318],[1578,1325],[1554,1358],[1485,1410],[1508,1463],[1466,1473],[1576,1432],[1484,1484],[1499,1484],[1489,1498],[1496,1493],[1544,1486],[1522,1499],[1503,1513],[1542,1544],[1415,1558],[1428,1562],[1415,1580],[1425,1588],[1344,1587],[1317,1602],[1387,1602],[1501,1599],[1545,1604],[1443,1616],[1456,1615],[1342,1621],[1360,1622],[1378,1626],[1327,1632],[1442,1636],[1465,1641],[1536,1640],[1525,1649],[1560,1656],[1570,1666],[1496,1666],[1338,1665],[1246,1676],[1546,1678],[1397,1695],[1269,1700],[1233,1714],[1504,1713],[1519,1722],[1453,1716],[1578,1712],[1183,1735],[1218,1732],[1313,1731],[1383,1734],[1384,1741],[1388,1748],[1416,1744],[1365,1751],[1448,1754],[1434,1765],[1436,1777],[1331,1769],[1385,1795],[1433,1803],[1173,1809],
            [1229,1815],[1204,1829],[1274,1837],[1285,1836],[1387,1836],[1401,1840],[1498,1844],[1018,1849],[1100,1866],[1147,1851],[1134,1859],[1151,1869],[1139,1874],[1186,1869],[1280,1869],[1320,1862],[1327,1860],[1494,1867],[1372,1875],[1309,1879],[1203,1886],[1462,1891],[1385,1901],[1173,1906],[1320,1905],[1328,1912],[1549,1910],[1522,1917],[1227,1916],[1240,1921],[1253,1929],[1005,1921],[1060,1923],[898,1926],[933,1938],[963,1931],[1018,1941],[1042,1938],[1055,1944],[1077,1940],[1167,1944],[1331,1941],[1352,1945],[1453,1953],[1478,1950],[1192,1957],[1268,1960],[1210,1969],[1250,1973],[1263,1973],[1414,1972],[978,1966],[941,1977],[977,1980],[1171,1977],[916,1985],[1136,1985],[1146,1994],[1158,2001],[1043,1994],[1495,1991],[1494,1998],[914,1999],[984,2000],[1106,1998],[1216,2006],[1264,2003],[1447,2001],[1490,2009],[865,2015],[977,2013],[1089,2011],[1042,2015],[1294,2014],[1498,2019],[1445,2016],[1056,2022],[1387,2023],[1161,2024],[842,2031],[1421,2030],[1453,2034],[1422,2042],[1475,2041],[1522,2038],[1180,2045],[1531,2050],[1013,2053],[1025,2052],[1045,2058],[943,2054],[1019,2062],[1036,2064],[1560,2059],[899,2066],[975,2069],[1300,2061],[1218,2066],[1486,2067],[1027,2072],[1405,2072],[1167,2076],[1567,2077],[1513,2079],[1534,2080],[1188,2085],[1143,2087],[1159,2090],[1493,2087],[1200,2096],[945,2095],[1190,2104],[1157,2107],[1578,2109],[925,2110],[1135,2116],[1170,2117],[1104,2122],[1224,2127],[1075,2131],[956,2128],[1143,2139],[940,2145],[1117,2148],[1243,2174],
            [1688,1527],[1700,1537],[1705,1521],[1610,1558],[1681,1556],[1710,1571],[1639,1578],[1678,1610],[1664,1633],[1605,1647],[1668,1656],[1570,1666],[1613,1696],[1577,1712],[1933,1548],[1938,1622],[1843,1658],[1977,1654],[2057,1659],[1935,1694],[1907,1704],[1924,1708],[1907,1720],[2066,1709],[2033,1717],[2047,1718],[1884,1737],[1996,1749],[2009,1754],[2032,1758],[2063,1760],[2075,1758],[2094,1761],[2113,1766],[1864,1759],[1951,1769],[1983,1768],[2052,1774],[2073,1782],[2070,1792],[2087,1791],[2219,1792],[2256,1801],[1983,1797],[1971,1805],[2041,1802],[2066,1805],[2106,1808],[1940,1814],[1954,1817],[1971,1821],[1885,1819],[2120,1818],[2159,1812],[1998,1821],[2007,1824],[2166,1829],[1776,1846],[1589,1850],[1964,1854],[2080,1851],[2104,1856],[2192,1854],[2221,1858],[1966,1872],[2070,1863],[2185,1864],[2078,1871],[2326,1872],[1794,1871],[1966,1888],[2249,1882],[2108,1878],[2101,1883],[2094,1889],[2139,1887],[2151,1888],[2121,1896],[2134,1899],[2108,1904],[2166,1899],[2031,1899],[2211,1900],[2126,1910],[1794,1910],[2262,1916],[2307,1912],[2149,1918],[2337,1933],[2084,1936],[2227,1945],[2147,1952],[2292,1956],[1736,1966],[2255,1962],[1769,1974],[2137,1974],[2053,2017],[2171,2020],[1650,2023],[2259,2022],[2172,2028],[2175,2034],[1914,2037],[1977,2034],[1948,2046],[2211,2047],[2113,2046],[1615,2048],[2127,2057],[1563,2059],[2257,2068],[2055,2075],[1568,2077],[1643,2076],[2119,2079],[1619,2079],[1605,2084],[1657,2085],[1697,2088],[1939,2092],[2018,2094],[1780,2097],[1580,2108],[1638,2105],[1737,2110],[1911,2111],[2184,2106],[1846,2115],[1813,2120],[2130,2125],[1699,2127],[1769,2131],[1716,2136],[1952,2131],[1944,2139],[1856,2143],[2079,2141],[2089,2147],[2196,2148],[1747,2155],[1648,2158],[1641,2163],[1745,2170],[1847,2172],[1955,2166],[1963,2170],[1745,2178],[1899,2184],[1973,2181],[2042,2187],[2047,2191],[2076,2194],[1976,2191],[1711,2198],[1765,2194],[1793,2194],[1810,2193],[1843,2191],[1892,2199],[1976,2202],[1653,2202],[1820,2205],[1771,2208],[1894,2212],[2042,2214],[2034,2221],[1897,2221],[2013,2221],[2012,2226],[1767,2229],[2017,2233],[1894,2230],[1670,2238],[1692,2237],[1795,2238],[1769,2247],[1782,2245],[1800,2253],[1813,2254],[1879,2256],[1828,2263],[1830,2267],[1776,2271],[1803,2271],[1666,2275],[1847,2276],[1777,2278],[1790,2278],[1748,2285],[1915,2297],[1715,2302],[1707,2324],[1735,2327],[1865,2325],[1887,2329]];
        const dashC = [[1355,1550],[1523,1541],[1523,1549],[1548,1528],[1654,1501],[1713,1514],[1580,1520]];

        // small canvases used as point styles, so the marks keep the picture's shapes
        function v_marker(w, h, draw) {
            let c = document.createElement("canvas");
            c.width = w;
            c.height = h;
            let g = c.getContext("2d");
            g.beginPath();
            draw(g);
            return c;
        }

        const triangleMark = v_marker(28, 24, g => {
            g.moveTo(14, 0); g.lineTo(28, 24); g.lineTo(0, 24); g.closePath();
            g.fillStyle = "#0000ff"; g.fill();
        });
        const diamondMark = v_marker(26, 26, g => {
            g.moveTo(13, 0); g.lineTo(26, 13); g.lineTo(13, 26); g.lineTo(0, 13); g.closePath();
            g.fillStyle = "#008000"; g.fill();
        });
        const starMark = v_marker(28, 26, g => {
            let R = 14;
            for (let i = 0; i < 10; i++) {
                let r = i % 2 ? R * 0.45 : R;
                let a = -Math.PI / 2 + i * Math.PI / 5;
                g.lineTo(14 + Math.cos(a) * r, R + Math.sin(a) * r);
            }
            g.closePath();
            g.fillStyle = "#008080"; g.fill();
        });
        const bigDot = v_marker(24, 24, g => {
            g.arc(12, 12, 12, 0, Math.PI * 2);
            g.fillStyle = "#ff0000"; g.fill();
        });
        const smallDot = v_marker(20, 20, g => {
            g.arc(10, 10, 10, 0, Math.PI * 2);
            g.fillStyle = "#ff0000"; g.fill();
        });
        const stippleDot = v_marker(24, 24, g => {
            let tile = document.createElement("canvas");
            tile.width = 2;
            tile.height = 2;
            let t = tile.getContext("2d");
            t.fillStyle = "#ffffff"; t.fillRect(0, 0, 2, 2);
            t.fillStyle = "#ff0000"; t.fillRect(0, 0, 1, 1); t.fillRect(1, 1, 1, 1);
            g.arc(12, 12, 12, 0, Math.PI * 2);
            g.fillStyle = g.createPattern(tile, "repeat"); g.fill();
        });

        function v_points(arr) {
            return arr.map(p => ({ x: p[0], y: p[1] }));
        }

        function v_set(name, arr, mark, order) {
            return { label: name, data: v_points(arr), pointStyle: mark, order: order, pointRadius: 12, showLine: false };
        }

        function v_panel(id, xMin, xMax, yMin, yMax, datasets) {
            new Chart(document.getElementById(id), {
                type: "scatter",
                data: { datasets: datasets },
                options: {
                    responsive: false,
                    animation: false,
                    devicePixelRatio: 1,
                    events: [],
                    // no extra room round the points, the scale has to fill the canvas
                    layout: { padding: 0, autoPadding: false },
                    plugins: { legend: { display: false }, tooltip: { enabled: false } },
                    scales: {
                        x: { type: "linear", display: false, min: xMin, max: xMax },
                        y: { type: "linear", display: false, min: yMin, max: yMax, reverse: true }
                    }
                }
            });
        }

        v_panel("chartA", 0, 1640, 0, 1170, [
            v_set("triangle", triangleA, triangleMark, 1),
            v_set("dot", dotA, bigDot, 2),
            v_set("stipple", stippleA, stippleDot, 3)
        ]);

        v_panel("chartB", 1640, 3184, 0, 1170, [
            v_set("diamond", diamondB, diamondMark, 1),
            v_set("dot", dotB, smallDot, 2)
        ]);

        v_panel("chartC", 760, 2440, 1260, 2346, [
            v_set("dot", dotC, smallDot, 1),
            v_set("star", starC, starMark, 2),
            { label: "dash", data: v_points(dashC), pointStyle: "line", pointRadius: 18, borderColor: "#ff0000", borderWidth: 2, showLine: false, order: 3 }
        ]);

        // panel captions
        const tagLeft = [599, 2428, 1512];
        const tagTop = [1180, 1180, 2352];
        panelTags.forEach((t, i) => {
            let d = document.createElement("div");
            d.className = "tag";
            d.style.left = tagLeft[i] + "px";
            d.style.top = tagTop[i] + "px";
            d.innerHTML = "(<b>" + t + "</b>)";
            document.body.appendChild(d);
        });
    </script>

</body>

</html>
